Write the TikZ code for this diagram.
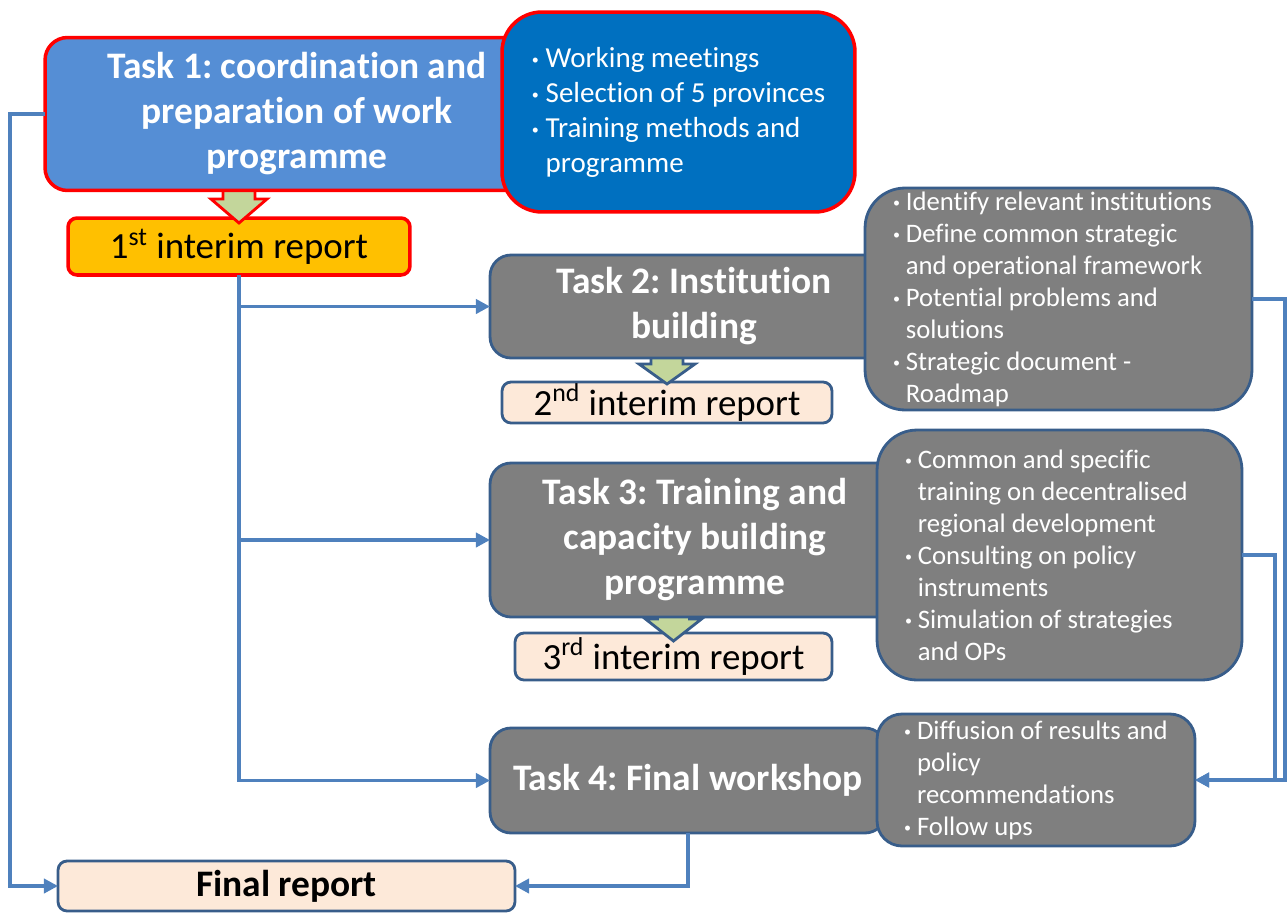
\documentclass[tikz,border=0pt]{standalone}
\usepackage{fontspec}
\setmainfont{Carlito}[Ligatures=NoCommon]
\usetikzlibrary{arrows.meta}
\definecolor{taskblue}{HTML}{558ED5}
\definecolor{listblue}{HTML}{0070C0}
\definecolor{hotred}{HTML}{FF0000}
\definecolor{amber}{HTML}{FFC000}
\definecolor{slate}{HTML}{7F7F7F}
\definecolor{edge}{HTML}{385D8A}
\definecolor{peach}{HTML}{FDE9D9}
\definecolor{sage}{HTML}{C3D69B}
\definecolor{wire}{HTML}{4F81BD}
\frenchspacing
\newcommand\tasktext{\fontsize{21.3}{25.6}\selectfont\bfseries}
\newcommand\bigitems{\fontsize{16.5}{19.9}\selectfont}
\newcommand\smallitems{\fontsize{15.2}{18.2}\selectfont}
\newcommand\reptext{\fontsize{21}{24}\selectfont}
\newcommand\bul{\makebox[0.48em][l]{\raisebox{0.1em}{\footnotesize\textbullet}}}
\newcommand\gap{\hspace*{0.48em}}
\tikzset{
  box/.style={rounded corners=0.45cm, inner sep=0pt, outer sep=0pt, align=flush center},
  taskone/.style={box, fill=taskblue, draw=hotred, line width=2pt, text=white, font=\tasktext},
  task/.style={box, fill=slate, draw=edge, line width=1.6pt, text=white, font=\tasktext},
  items/.style={box, rounded corners=0.8cm, align=flush left, text=white},
  report/.style={box, rounded corners=0.18cm, fill=peach, draw=edge, line width=1.6pt, font=\reptext},
  gbody/.style={fill=sage, line width=1.6pt, line join=miter},
  flow/.style={draw=wire, line width=2pt, -{Triangle[length=8pt,width=8pt]}},
}

\begin{document}
\begin{tikzpicture}[x=0.02cm, y=-0.02cm]
  \useasboundingbox (0,0) rectangle (1288,913);

  % interim and final reports
  \node[report, fill=amber, draw=hotred, line width=2pt, minimum width=6.84cm, minimum height=1.14cm]
    (r1) at (239,246.5) {1\textsuperscript{st} interim report};
  \node[report, minimum width=6.6cm, minimum height=0.82cm]
    (r2) at (667,402.5) {2\textsuperscript{nd} interim report};
  \node[report, minimum width=6.34cm, minimum height=0.94cm]
    (r3) at (673.5,656.5) {3\textsuperscript{rd} interim report};
  \node[report, font=\tasktext, minimum width=9.14cm, minimum height=1cm]
    (fin) at (286.5,886) {Final report};

  % block arrows task -> report (shaft tucked under the task box)
  \draw[gbody, draw=hotred] (r1.north) ++(0,5) -- ++(-28,-24) -- ++(12,0) -- ++(0,-30)
    -- ++(32,0) -- ++(0,30) -- ++(12,0) -- cycle;
  \draw[gbody, draw=edge] (r2.north) ++(0,2) -- ++(-28,-20) -- ++(12,0) -- ++(0,-30)
    -- ++(32,0) -- ++(0,30) -- ++(12,0) -- cycle;
  \draw[gbody, draw=edge] (r3.north) ++(0,8) -- ++(-28,-22) -- ++(12,0) -- ++(0,-30)
    -- ++(32,0) -- ++(0,30) -- ++(12,0) -- cycle;

  % tasks
  \node[taskone, minimum width=10.08cm, minimum height=3.06cm, text width=8cm]
    (t1) at (297,114) {Task 1: coordination and\\preparation of work\\programme};
  \node[task, rounded corners=0.42cm, minimum width=8.16cm, minimum height=2.06cm, text width=7cm]
    (t2) at (694,306.5) {Task 2: Institution\\building};
  \node[task, rounded corners=0.42cm, minimum width=8.2cm, minimum height=3.08cm, text width=7cm]
    (t3) at (695,540) {Task 3: Training and\\capacity building\\programme};
  \node[task, rounded corners=0.42cm, minimum width=7.92cm, minimum height=2.1cm, text width=7.4cm]
    (t4) at (688,780.5) {Task 4: Final workshop};

  % activity lists
  \node[items, fill=listblue, draw=hotred, line width=2pt, font=\bigitems,
        minimum width=7.06cm, minimum height=4cm]
    (b1) at (678.5,112) {\bul Working meetings\\\bul Selection of 5 provinces\\
      \bul Training methods and\\\gap programme};
  \node[items, fill=slate, draw=edge, line width=1.6pt, font=\smallitems,
        minimum width=7.74cm, minimum height=4.44cm, text width=6.62cm]
    (b2) at (1058.5,299) {\bul Identify relevant institutions\\\bul Define common strategic\\
      \gap and operational framework\\\bul Potential problems and\\\gap solutions\\
      \bul Strategic document -\\\gap Roadmap};
  \node[items, fill=slate, draw=edge, line width=1.6pt, font=\smallitems,
        minimum width=7.3cm, minimum height=5cm, text width=6.18cm]
    (b3) at (1059.5,555) {\bul Common and specific\\\gap training on decentralised\\
      \gap regional development\\\bul Consulting on policy\\\gap instruments\\
      \bul Simulation of strategies\\\gap and OPs};
  \node[items, rounded corners=0.5cm, fill=slate, draw=edge, line width=1.6pt, font=\smallitems,
        minimum width=6.36cm, minimum height=2.64cm]
    (b4) at (1036,780) {\bul Diffusion of results and\\\gap policy\\\gap recommendations\\
      \bul Follow ups};

  % connectors
  \coordinate (lrail) at (10,0);
  \coordinate (mrail) at (1275,0);
  \coordinate (rrail) at (1285,0);
  \draw[flow] (t1.west) -- (t1.west -| lrail) |- (fin.west);
  \draw[flow] (r1.south) |- (t2.west);
  \draw[flow] (r1.south) |- (t3.west);
  \draw[flow] (r1.south) |- (t4.west);
  \draw[flow] (t4.south) |- (fin.east);
  \draw[flow] (b2.east) -- (b2.east -| rrail) |- (b4.east);
  \draw[flow] (b3.east) -- (b3.east -| mrail) |- (b4.east);
\end{tikzpicture}
\end{document}
